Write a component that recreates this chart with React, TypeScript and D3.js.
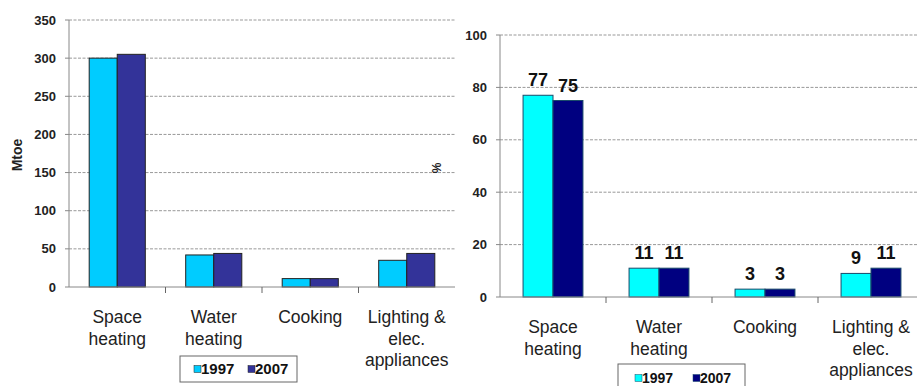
import React from 'react'
import * as d3 from 'd3'

const categories = ['Space heating', 'Water heating', 'Cooking', 'Lighting & elec. appliances']
const categoryLines = [['Space', 'heating'], ['Water', 'heating'], ['Cooking'], ['Lighting &', 'elec.', 'appliances']]
const years = ['1997', '2007']

// left panel: consumption in Mtoe
const mtoe1997 = [300, 42, 11, 35]
const mtoe2007 = [305, 44, 11, 44]
const mtoeTicks = [0, 50, 100, 150, 200, 250, 300, 350]

// right panel: share in %
const pct1997 = [77, 11, 3, 9]
const pct2007 = [75, 11, 3, 11]
const pctTicks = [0, 20, 40, 60, 80, 100]

const font = 'Liberation Sans, Arial, sans-serif'

type PanelProps = {
  x0: number; x1: number; yTop: number; yBottom: number
  max: number; ticks: number[]
  values: number[][]
  colors: string[]
  stroke: string
  padOuter: number
  showLabels: boolean
  labelY: number
  legend: { x: number; y: number; w: number; h: number; sw: number[]; tx: number[]; fs: number }
}

const Panel = (p: PanelProps) => {
  const x = d3.scaleBand<string>().domain(categories).range([p.x0, p.x1])
  const xs = d3.scaleBand<string>().domain(years).range([0, x.bandwidth()]).paddingOuter(p.padOuter)
  const y = d3.scaleLinear().domain([0, p.max]).range([p.yBottom, p.yTop])
  return (
    <g>
      {p.ticks.map(t => (
        <g key={t}>
          {t > 0 && (
            <line x1={p.x0} x2={p.x1} y1={y(t)} y2={y(t)} stroke="#999" strokeWidth={1} strokeDasharray="3 1.5" />
          )}
          <line x1={p.x0 - 4} x2={p.x0} y1={y(t)} y2={y(t)} stroke="#888" />
          <text x={p.x0 - 13} y={y(t)} dy="0.35em" textAnchor="end" fontSize={13} fontWeight="bold" fill="#222" fontFamily={font}>
            {t}
          </text>
        </g>
      ))}
      {categories.map((c, i) => (
        <g key={c}>
          {years.map((yr, j) => {
            const v = p.values[j][i]
            const bx = (x(c) as number) + (xs(yr) as number)
            return (
              <g key={yr}>
                <rect x={bx} y={y(v)} width={xs.bandwidth()} height={y(0) - y(v)} fill={p.colors[j]} stroke={p.stroke} strokeWidth={1} />
                {p.showLabels && (
                  <text x={bx + xs.bandwidth() / 2} y={y(v) - 9} textAnchor="middle" fontSize={18} fontWeight="bold" fill="#111" fontFamily={font}>
                    {v}
                  </text>
                )}
              </g>
            )
          })}
          {categoryLines[i].map((ln, k) => (
            <text key={k} x={(x(c) as number) + x.bandwidth() / 2} y={p.labelY + k * 21.7} textAnchor="middle" fontSize={17.5} fill="#222" fontFamily={font}>
              {ln}
            </text>
          ))}
        </g>
      ))}
      <line x1={p.x0} x2={p.x0} y1={y(p.max)} y2={y(0)} stroke="#888" />
      <line x1={p.x0} x2={p.x1} y1={y(0)} y2={y(0)} stroke="#888" />
      {categories.slice(1).map(c => (
        <line key={c} x1={x(c) as number} x2={x(c) as number} y1={y(0)} y2={y(0) + 6} stroke="#666" />
      ))}
      <rect x={p.legend.x} y={p.legend.y} width={p.legend.w} height={p.legend.h} fill="#fff" stroke="#666" />
      {years.map((yr, j) => (
        <g key={yr}>
          <rect x={p.legend.sw[j]} y={p.legend.y + p.legend.h / 2 - 3.5} width={7} height={7} fill={p.colors[j]} stroke={p.stroke} strokeWidth={0.5} />
          <text x={p.legend.tx[j]} y={p.legend.y + p.legend.h / 2} dy="0.35em" fontSize={p.legend.fs} fontWeight="bold" fill="#111" fontFamily={font}>
            {yr}
          </text>
        </g>
      ))}
    </g>
  )
}

export default function App() {
  return (
    <svg width={917} height={386} style={{ position: 'absolute', left: 0, top: 0 }}>
      <rect width={917} height={386} fill="#fff" />
      <Panel
        x0={69} x1={455} yTop={20} yBottom={287}
        max={350} ticks={mtoeTicks}
        values={[mtoe1997, mtoe2007]}
        colors={['#00ccff', '#333399']}
        stroke="#222"
        padOuter={0.72}
        showLabels={false}
        labelY={323}
        legend={{ x: 180, y: 356, w: 117, h: 26, sw: [194, 248], tx: [201, 255], fs: 15 }}
      />
      <Panel
        x0={500} x1={924} yTop={35} yBottom={297}
        max={100} ticks={pctTicks}
        values={[pct1997, pct2007]}
        colors={['#00ffff', '#000080']}
        stroke="#1a4a6a"
        padOuter={0.77}
        showLabels={true}
        labelY={333}
        legend={{ x: 618, y: 364, w: 127, h: 28, sw: [635, 693], tx: [642, 700], fs: 14 }}
      />
      <text transform="translate(22,155) rotate(-90)" textAnchor="middle" fontSize={14} fontWeight="bold" fill="#222" fontFamily={font}>
        Mtoe
      </text>
      <text transform="translate(441,168) rotate(-90)" textAnchor="middle" fontSize={12} fontWeight="bold" fill="#222" fontFamily={font}>
        %
      </text>
    </svg>
  )
}
